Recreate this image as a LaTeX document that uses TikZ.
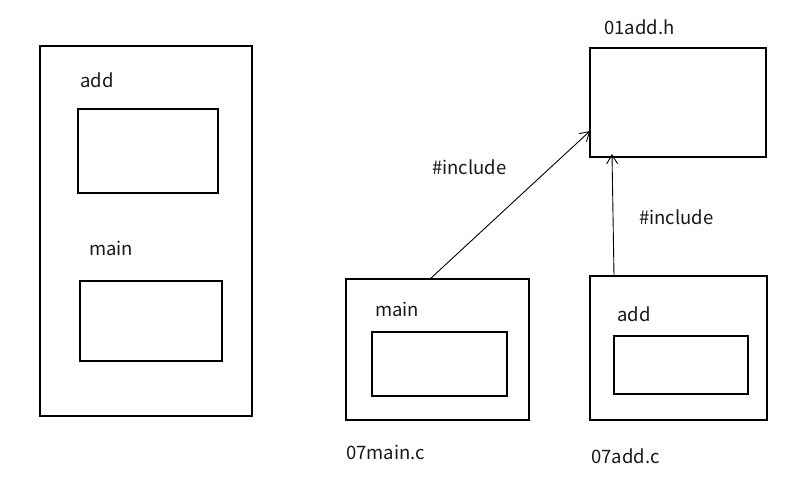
\documentclass[tikz,border=0pt]{standalone}
\usepackage{fontspec}
\setmainfont{Noto Sans CJK SC}
\usetikzlibrary{arrows.meta}
\begin{document}
\begin{tikzpicture}[x=1pt,y=-1pt,
  box/.style={draw=black, line width=1.2pt, inner sep=0pt, outer sep=0pt, anchor=north west},
  lbl/.style={font=\fontsize{18.5}{20}\selectfont, text=black!90, inner sep=0pt, anchor=west},
  conn/.style={line width=0.9pt, -{Straight Barb[length=9pt,width=11pt]}}]
\useasboundingbox[fill=white] (0,0) rectangle (787,498);
% left box
\node[box, minimum width=212pt, minimum height=370pt] (big) at (40,46) {};
\node[box, minimum width=140pt, minimum height=84pt] (bigadd) at (78,109) {};
\node[box, minimum width=142pt, minimum height=80pt] (bigmain) at (80,281) {};
\node[lbl] (tadd) at (80,80) {add};
\node[lbl] (tmain) at (89,248) {main};
% 07main.c
\node[box, minimum width=183pt, minimum height=141pt] (mainc) at (346,279) {};
\node[box, minimum width=135pt, minimum height=64pt] (maininner) at (372,332) {};
\node[lbl] (tmain2) at (375,309) {main};
\node[lbl] (tmainc) at (346,452) {07main.c};
% 07add.c
\node[box, minimum width=177pt, minimum height=144pt] (addc) at (590,276) {};
\node[box, minimum width=134pt, minimum height=58pt] (addinner) at (614,336) {};
\node[lbl] (tadd2) at (617,314) {add};
\node[lbl] (taddc) at (591,456) {07add.c};
% 01add.h
\node[box, minimum width=176pt, minimum height=109pt] (addh) at (590,48) {};
\node[lbl] (taddh) at (604,27) {01add.h};
% connectors
\coordinate (s1) at ([xshift=84pt]mainc.north west);
\coordinate (e1) at ([yshift=26pt]addh.south west);
\draw[conn] (s1) -- (e1);
\coordinate (s2) at ([xshift=24pt]addc.north west);
\coordinate (e2) at ([xshift=22pt,yshift=3pt]addh.south west);
\draw[conn] (s2) -- (e2);
\node[lbl] (inc1) at (432,167) {\#include};
\node[lbl] (inc2) at (639,217) {\#include};
\end{tikzpicture}
\end{document}
